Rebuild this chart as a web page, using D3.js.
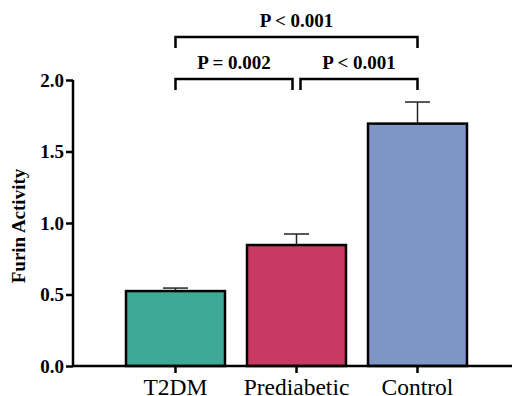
<!DOCTYPE html>
<html>
<head>
<meta charset="utf-8">
<script src="https://cdn.jsdelivr.net/npm/d3@7"></script>
<style>
  body { margin: 0; background: #fff; }
</style>
</head>
<body>
<svg id="chart" width="512" height="396"></svg>
<script>
// data
let groups = ['T2DM', 'Prediabetic', 'Control'];
let means = [0.524, 0.846, 1.695];
let errors = [0.021, 0.077, 0.151];
let colors = ['#3daa98', '#c93a63', '#7f95c5'];
let yTicks = [0, 0.5, 1.0, 1.5, 2.0];
let comparisons = [
  { from: 'T2DM', to: 'Control', label: 'P < 0.001', level: 1 },
  { from: 'T2DM', to: 'Prediabetic', label: 'P = 0.002', level: 0 },
  { from: 'Prediabetic', to: 'Control', label: 'P < 0.001', level: 0 }
];

let serif = '"Liberation Serif", "Times New Roman", Times, serif';
let svg = d3.select('#chart');
let x0 = 73, yBase = 366, yTop = 80;

let x = d3.scaleBand()
  .domain(groups)
  .range([115, 115 + 121 * 3])
  .paddingInner(0.182)
  .paddingOuter(0.091);

let y = d3.scaleLinear().domain([0, 2]).range([yBase, yTop]);

// bars
svg.selectAll('rect.bar')
  .data(groups)
  .enter()
  .append('rect')
  .attr('class', 'bar')
  .attr('x', d => x(d))
  .attr('y', (d, i) => y(means[i]))
  .attr('width', x.bandwidth())
  .attr('height', (d, i) => y(0) - y(means[i]))
  .attr('fill', (d, i) => colors[i])
  .attr('stroke', '#000')
  .attr('stroke-width', 2.5);

// error bars (upper only)
groups.forEach(function(g, i) {
  let cx = x(g) + x.bandwidth() / 2;
  svg.append('line')
    .attr('x1', cx).attr('x2', cx)
    .attr('y1', y(means[i])).attr('y2', y(means[i] + errors[i]))
    .attr('stroke', '#222').attr('stroke-width', 1.5);
  svg.append('line')
    .attr('x1', cx - 12.5).attr('x2', cx + 12.5)
    .attr('y1', y(means[i] + errors[i])).attr('y2', y(means[i] + errors[i]))
    .attr('stroke', '#222').attr('stroke-width', 1.5);
});

// y axis
let yAxis = svg.append('g')
  .attr('transform', 'translate(' + x0 + ',0)')
  .call(d3.axisLeft(y).tickValues(yTicks).tickFormat(d3.format('.1f')).tickSize(7).tickPadding(2));
yAxis.select('.domain').attr('stroke-width', 2.5).attr('d', 'M0,' + yTop + 'V' + yBase);
yAxis.selectAll('.tick line').attr('stroke-width', 2.5);
yAxis.selectAll('.tick text')
  .style('font-family', serif).style('font-size', '19px').style('font-weight', 'bold')
  .attr('fill', '#000');

// x axis
let xAxis = svg.append('g')
  .attr('transform', 'translate(0,' + yBase + ')')
  .call(d3.axisBottom(x).tickSize(7).tickPadding(5));
xAxis.select('.domain').attr('stroke-width', 2.5).attr('d', 'M' + x0 + ',0H512');
xAxis.selectAll('.tick line').attr('stroke-width', 2.5);
xAxis.selectAll('.tick text')
  .style('font-family', serif).style('font-size', '23.5px')
  .attr('fill', '#000');

// y axis title
svg.append('text')
  .attr('transform', 'translate(25,' + (y(1) + 3) + ') rotate(-90)')
  .attr('text-anchor', 'middle')
  .style('font-family', serif).style('font-size', '19px').style('font-weight', 'bold')
  .text('Furin Activity');

// significance brackets
let levelY = [79, 37];
comparisons.forEach(function(c) {
  let a = x(c.from) + x.bandwidth() / 2;
  let b = x(c.to) + x.bandwidth() / 2;
  if (c.level === 0) {
    if (c.from === 'Prediabetic') a += 4;
    if (c.to === 'Prediabetic') b -= 4;
  }
  let yy = levelY[c.level];
  svg.append('path')
    .attr('d', 'M' + a + ',' + (yy + 11) + 'V' + yy + 'H' + b + 'V' + (yy + 11))
    .attr('fill', 'none')
    .attr('stroke', '#000')
    .attr('stroke-width', 2.5);
  svg.append('text')
    .attr('x', (a + b) / 2)
    .attr('y', yy - 10)
    .attr('text-anchor', 'middle')
    .style('font-family', serif).style('font-size', '19px').style('font-weight', 'bold')
    .text(c.label);
});
</script>
</body>
</html>
